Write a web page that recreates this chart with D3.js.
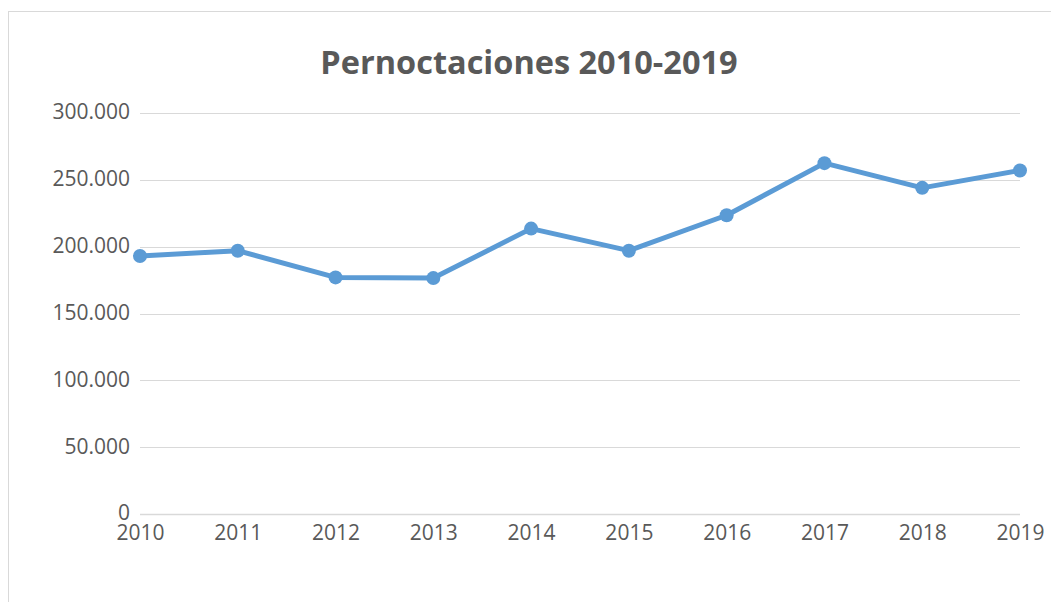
<!DOCTYPE html>
<html><head><meta charset="utf-8">
<script src="https://cdn.jsdelivr.net/npm/d3@7"></script>
<style>body{margin:0;background:#fff;} svg{display:block;}</style>
</head><body>
<svg id="chart" width="1051" height="602"></svg>
<script>
const years = ["2010","2011","2012","2013","2014","2015","2016","2017","2018","2019"];
const values = [193000, 197000, 177000, 176500, 213500, 197000, 223500, 262500, 244000, 257000];
const yTicks = [0, 50000, 100000, 150000, 200000, 250000, 300000];
const title = "Pernoctaciones 2010-2019";

const svg = d3.select("#chart");
const W = 1051, H = 602;
const font = "'Open Sans', 'Liberation Sans', sans-serif";

svg.append("rect").attr("x", 8.5).attr("y", 11.5).attr("width", W).attr("height", H)
  .attr("fill", "#fff").attr("stroke", "#d9d9d9");

const x = d3.scalePoint().domain(years).range([140, 1020]);
const y = d3.scaleLinear().domain([0, 300000]).range([514, 113]);
const fmt = v => d3.format(",")(v).replace(/,/g, ".");

// gridlines
svg.append("g").selectAll("line").data(yTicks).join("line")
  .attr("x1", 140).attr("x2", 1020)
  .attr("y1", d => Math.round(y(d)) + 0.5).attr("y2", d => Math.round(y(d)) + 0.5)
  .attr("stroke", "#d9d9d9").attr("stroke-width", d => d === 0 ? 1.5 : 1);

// y axis labels
const yAxis = d3.axisLeft(y).tickValues(yTicks).tickFormat(fmt).tickSize(0).tickPadding(10);
const gy = svg.append("g").attr("transform", "translate(140,0)").call(yAxis);
gy.select(".domain").remove();
gy.selectAll("text").attr("fill", "#595959").style("font-family", font).style("font-size", "21px")
  .attr("dy", "0.28em");

// x axis labels
const xAxis = d3.axisBottom(x).tickSize(0).tickPadding(11);
const gx = svg.append("g").attr("transform", "translate(0,514)").call(xAxis);
gx.select(".domain").remove();
gx.selectAll("text").attr("fill", "#595959").style("font-family", font).style("font-size", "21px");

// line
const line = d3.line().x((d, i) => x(years[i])).y(d => y(d));
svg.append("path").datum(values).attr("d", line)
  .attr("fill", "none").attr("stroke", "#5B9BD5").attr("stroke-width", 5)
  .attr("stroke-linejoin", "round").attr("stroke-linecap", "round");

svg.append("g").selectAll("circle").data(values).join("circle")
  .attr("cx", (d, i) => x(years[i])).attr("cy", d => y(d)).attr("r", 7)
  .attr("fill", "#5B9BD5");

// title
svg.append("text").attr("x", 529).attr("y", 74).attr("text-anchor", "middle")
  .attr("fill", "#595959").style("font-family", font).style("font-weight", "bold")
  .style("font-size", "32.5px").text(title);
</script>
</body></html>
